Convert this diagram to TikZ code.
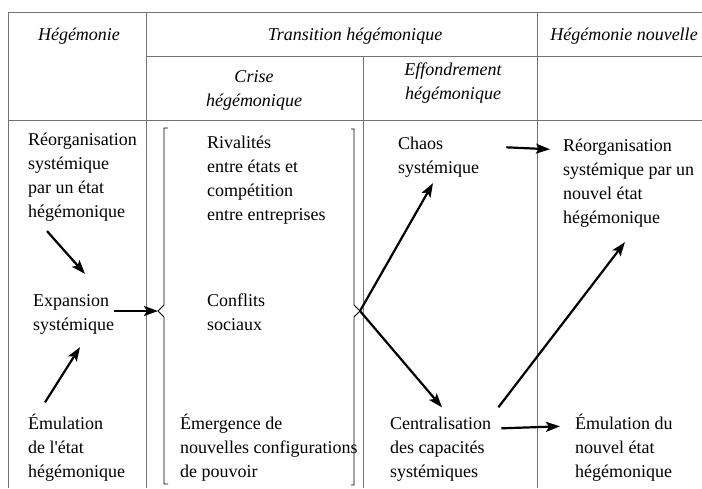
\documentclass[tikz,border=0pt]{standalone}
\usepackage{fontspec}
\setmainfont{Liberation Serif}[Ligatures=TeXOff]
\usetikzlibrary{arrows.meta}
\newcommand{\bodyfont}{\fontsize{18pt}{24pt}\selectfont}

\begin{document}
\begin{tikzpicture}[x=1pt,y=-1pt,
    rule/.style={black!55,line width=1pt},
    brace/.style={black,line width=0.9pt},
    txt/.style={anchor=base west,align=left,inner sep=0pt,font=\bodyfont},
    head/.style={anchor=base,align=center,inner sep=0pt,font=\bodyfont\itshape},
    arr/.style={line width=2.2pt,-{Stealth[length=14pt,width=10pt,inset=3pt]}}]
    \useasboundingbox (0,0) rectangle (702,488);
    % grille
    \draw[rule] (8,488) -- (8,12) -- (702,12);
    \draw[rule] (146,56) -- (702,56);
    \draw[rule] (8,120) -- (702,120);
    \draw[rule] (146,12) -- (146,488);
    \draw[rule] (363,56) -- (363,488);
    \draw[rule] (537,12) -- (537,488);
    % en-tetes (ancre = ligne de base de la derniere ligne)
    \node[head] (hdHeg) at (79,40) {Hégémonie};
    \node[head] (hdTrans) at (355,40) {Transition hégémonique};
    \node[head] (hdNouv) at (624,40) {Hégémonie nouvelle};
    \node[head] (hdCrise) at (254,106) {Crise\\hégémonique};
    \node[head] (hdEff) at (453,99) {Effondrement\\hégémonique};
    % accolades
    \coordinate (lbtip) at (158,311);
    \coordinate (rbtip) at (360,311);
    \draw[brace] (168,128) -- (164,128) -- (164,305) -- (lbtip) -- (164,317) -- (164,484) -- (168,484);
    \draw[brace] (351,129) -- (354,129) -- (354,305) -- (rbtip) -- (354,317) -- (354,485) -- (351,485);
    % textes
    \node[txt] (reorgA) at (28,217) {Réorganisation\\systémique\\par un état\\hégémonique};
    \node[txt] (expan) at (33,330) {Expansion\\systémique};
    \node[txt] (emulA) at (28,477) {Émulation\\de l'état\\hégémonique};
    \node[txt] (rival) at (207,220) {Rivalités\\entre états et\\compétition\\entre entreprises};
    \node[txt] (confl) at (207,330) {Conflits\\sociaux};
    \node[txt] (emerg) at (180,477) {Émergence de\\nouvelles configurations\\de pouvoir};
    \node[txt] (chaos) at (398,173) {Chaos\\systémique};
    \node[txt] (central) at (390,477) {Centralisation\\des capacités\\systémiques};
    \node[txt] (reorgB) at (563,223) {Réorganisation\\systémique par un\\nouvel état\\hégémonique};
    \node[txt] (emulB) at (575,477) {Émulation du\\nouvel état\\hégémonique};
    % fleches
    \draw[arr] ([xshift=19pt,yshift=-10pt]reorgA.south west) -- ([xshift=52pt,yshift=20pt]expan.north west);
    \draw[arr] ([xshift=17pt,yshift=11pt]emulA.north west) -- ([xshift=47pt,yshift=-13pt]expan.south west);
    \draw[arr] (expan.east |- lbtip) -- (lbtip);
    \draw[arr] (rbtip) -- ([xshift=35pt,yshift=-6pt]chaos.south west);
    \draw[arr] (rbtip) -- ([xshift=52pt,yshift=9pt]central.north west);
    \draw[arr] ([xshift=27pt,yshift=-11pt]chaos.north east) -- ([xshift=-13pt,yshift=-11pt]reorgB.north west);
    \draw[arr] ([xshift=7pt,yshift=9pt]central.north east) -- ([xshift=62pt,yshift=-15pt]reorgB.south west);
    \draw[arr] ([xshift=10pt,yshift=-12pt]central.north east) -- ([xshift=-15pt,yshift=-13pt]emulB.north west);
\end{tikzpicture}
\end{document}
